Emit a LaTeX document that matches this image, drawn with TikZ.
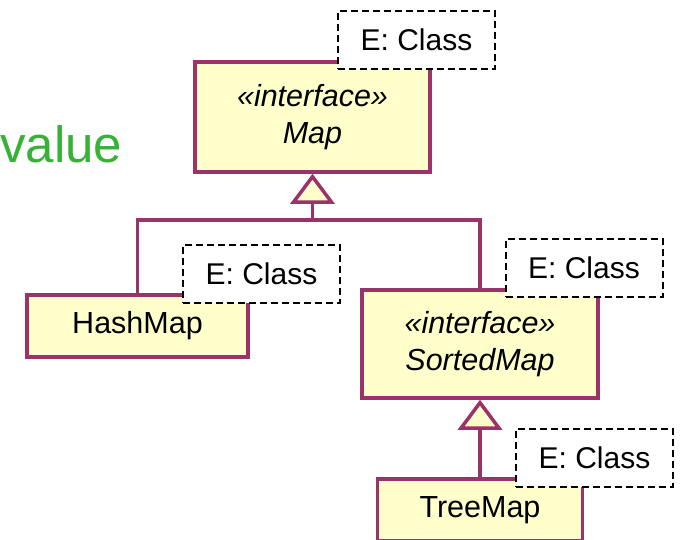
\documentclass[tikz,border=0pt]{standalone}
\usepackage{fontspec}
\setmainfont{Liberation Sans}
\usetikzlibrary{arrows.meta}
\definecolor{umlborder}{RGB}{155,50,105}
\definecolor{umlfill}{RGB}{255,255,204}
\definecolor{valgreen}{RGB}{55,178,55}
\begin{document}
\begin{tikzpicture}[x=1pt,y=-1pt,
  cls/.style={draw=umlborder, fill=umlfill, line width=3.5pt, inner sep=0pt, align=center, font=\fontsize{30.5}{37.5}\selectfont},
  iface/.style={cls, font=\fontsize{30.5}{37.5}\selectfont\itshape},
  tparam/.style={draw=black, fill=white, dash pattern=on 7pt off 4pt, line width=2pt, minimum width=157pt, minimum height=58pt, inner sep=0pt, font=\fontsize{30}{36}\selectfont},
  gen/.style={draw=umlborder, line width=3.5pt},
  genhead/.style={-{Triangle[open, fill=umlfill, length=30pt, width=44pt]}}]
\useasboundingbox (0,0) rectangle (682,539);
\clip (0,0) rectangle (682,539);
\node[anchor=base west, text=valgreen, font=\fontsize{51}{60}\selectfont, inner sep=0pt] (val) at (0,162) {value};
\node[iface, minimum width=235pt, minimum height=110pt] (map) at (312.5,117) {«interface»\\Map};
\node[cls, minimum width=221pt, minimum height=62pt] (hash) at (137.5,326) {HashMap};
\node[iface, minimum width=236pt, minimum height=108pt] (sorted) at (480,344) {«interface»\\SortedMap};
\node[cls, minimum width=205pt, minimum height=62pt] (tree) at (480,510) {TreeMap};
\coordinate (j) at (312.5,220);
\draw[gen, genhead] (hash.north) |- (j) -- (map.south);
\draw[gen] (sorted.north) |- (j);
\draw[gen, genhead] (tree.north) -- (sorted.south);
\node[tparam] (e1) at (416.5,40) {E: Class};
\node[tparam] (e2) at (261.5,273.5) {E: Class};
\node[tparam] (e3) at (584,268) {E: Class};
\node[tparam] (e4) at (594.5,458) {E: Class};
\end{tikzpicture}
\end{document}
